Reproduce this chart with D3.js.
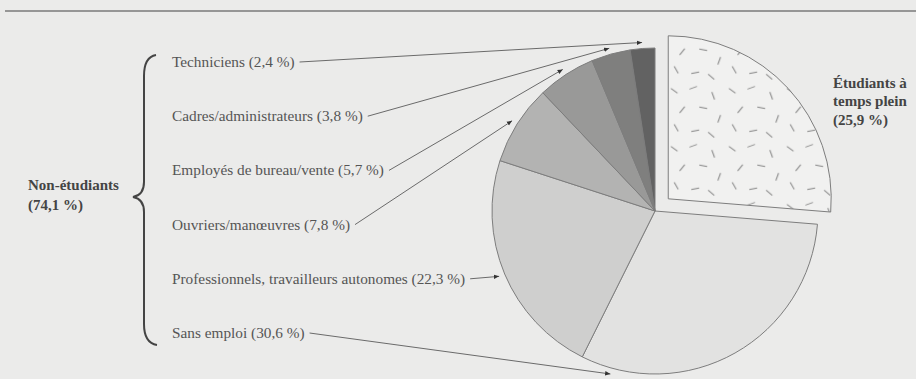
<!DOCTYPE html>
<html>
<head>
<meta charset="utf-8">
<script src="https://cdn.jsdelivr.net/npm/d3@7"></script>
<style>
  html, body { margin: 0; padding: 0; background: #ebebea; }
  svg { display: block; }
</style>
</head>
<body>
<svg id="chart" width="916" height="379"></svg>
<script>
// ---- data ----
const categories = ["Étudiants à temps plein", "Sans emploi", "Professionnels, travailleurs autonomes",
                    "Ouvriers/manœuvres", "Employés de bureau/vente", "Cadres/administrateurs", "Techniciens"];
const values = [25.9, 30.6, 22.3, 7.8, 5.7, 3.8, 2.4];
const valueLabels = ["25,9 %", "30,6 %", "22,3 %", "7,8 %", "5,7 %", "3,8 %", "2,4 %"];
const groupLabel = ["Non-étudiants", "(74,1 %)"];
const studentLabel = ["Étudiants à", "temps plein", "(25,9 %)"];
const fills = ["#f1f1f0", "#e2e2e1", "#cfcfce", "#b3b3b2", "#999998", "#7f7f7e", "#626262"];

// ---- layout ----
const svg = d3.select("#chart");
const cx = 655, cy = 211, R = 163, explode = 18;
const FONT = "'Liberation Serif', 'Times New Roman', serif";

const defs = svg.append("defs");
// texture for students slice
const pat = defs.append("pattern").attr("id", "dashes").attr("patternUnits", "userSpaceOnUse")
  .attr("width", 58).attr("height", 58);
pat.append("rect").attr("width", 58).attr("height", 58).attr("fill", fills[0]);
const dashSpecs = [[6,8,35],[25,5,-20],[45,13,70],[14,27,-50],[35,25,10],[51,36,-70],[8,45,60],[27,48,-10],[43,52,40]];
dashSpecs.forEach(([x,y,a]) => {
  pat.append("line").attr("x1", -4).attr("x2", 4).attr("y1", 0).attr("y2", 0)
    .attr("transform", `translate(${x},${y}) rotate(${a})`)
    .attr("stroke", "#858585").attr("stroke-width", 1);
});
defs.append("marker").attr("id", "arrow").attr("markerUnits", "userSpaceOnUse")
  .attr("viewBox", "0 -4 8 8").attr("refX", 7).attr("refY", 0)
  .attr("markerWidth", 6).attr("markerHeight", 6).attr("orient", "auto")
  .append("path").attr("d", "M0,-3L7,0L0,3Z").attr("fill", "#333");

// top rule
svg.append("line").attr("x1", 5).attr("x2", 916).attr("y1", 11).attr("y2", 11)
  .attr("stroke", "#7a7a7a").attr("stroke-width", 1.5);

const data = categories.map((c, i) => ({ cat: c, v: values[i], lab: valueLabels[i], fill: fills[i], i }));
const pie = d3.pie().sort(null).value(d => d.v).startAngle(0).endAngle(2 * Math.PI);
const arcs = pie(data);
const arc = d3.arc().innerRadius(0).outerRadius(R);

const g = svg.append("g").attr("transform", `translate(${cx},${cy})`);
g.selectAll("path.slice").data(arcs).join("path")
  .attr("class", "slice")
  .attr("d", arc)
  .attr("transform", d => {
    if (d.index !== 0) return null;
    const a = (d.startAngle + d.endAngle) / 2;
    return `translate(${explode * Math.sin(a)},${-explode * Math.cos(a)})`;
  })
  .attr("fill", d => d.index === 0 ? "url(#dashes)" : d.data.fill)
  .attr("stroke", "#7d7d7d").attr("stroke-width", 1);

// labels for non-student categories (top to bottom: reverse pie order)
const labelArcs = arcs.slice(1).reverse();
const yRow = d3.scalePoint().domain(labelArcs.map(d => d.data.cat)).range([62, 333]);
const labelX = 172;
const anchorFrac = d => d.data.cat === "Sans emploi" ? 0.9 : 0.5;

labelArcs.forEach(d => {
  const y = yRow(d.data.cat);
  const t = svg.append("text").attr("x", labelX).attr("y", y).attr("dy", "0.33em")
    .attr("font-family", FONT).attr("font-size", 15.3)
    .attr("fill", "#555").text(`${d.data.cat} (${d.data.lab})`);
  const w = t.node().getComputedTextLength();
  const a = d.startAngle + (d.endAngle - d.startAngle) * anchorFrac(d);
  const tr = R + 6;
  const tx = cx + tr * Math.sin(a), ty = cy - tr * Math.cos(a);
  svg.append("line").attr("x1", labelX + w + 5).attr("y1", y).attr("x2", tx).attr("y2", ty)
    .attr("stroke", "#6a6a6a").attr("stroke-width", 1).attr("marker-end", "url(#arrow)");
});

// brace
svg.append("path")
  .attr("d", "M156,55 Q144,57 144,76 L144,182 Q144,195 133,197 Q144,199 144,212 L144,324 Q144,343 157,345")
  .attr("fill", "none").attr("stroke", "#444").attr("stroke-width", 2);

// group label
svg.append("g").selectAll("text").data(groupLabel).join("text")
  .attr("x", 28).attr("y", (d, i) => 185 + i * 20).attr("dy", "0.33em")
  .attr("font-family", FONT).attr("font-size", 15).attr("font-weight", "bold")
  .attr("fill", "#444").text(d => d);

// student label
svg.append("g").selectAll("text").data(studentLabel).join("text")
  .attr("x", 833).attr("y", (d, i) => 83 + i * 18.5).attr("dy", "0.33em")
  .attr("font-family", FONT).attr("font-size", 15).attr("font-weight", "bold")
  .attr("fill", "#444").text(d => d);
</script>
</body>
</html>
